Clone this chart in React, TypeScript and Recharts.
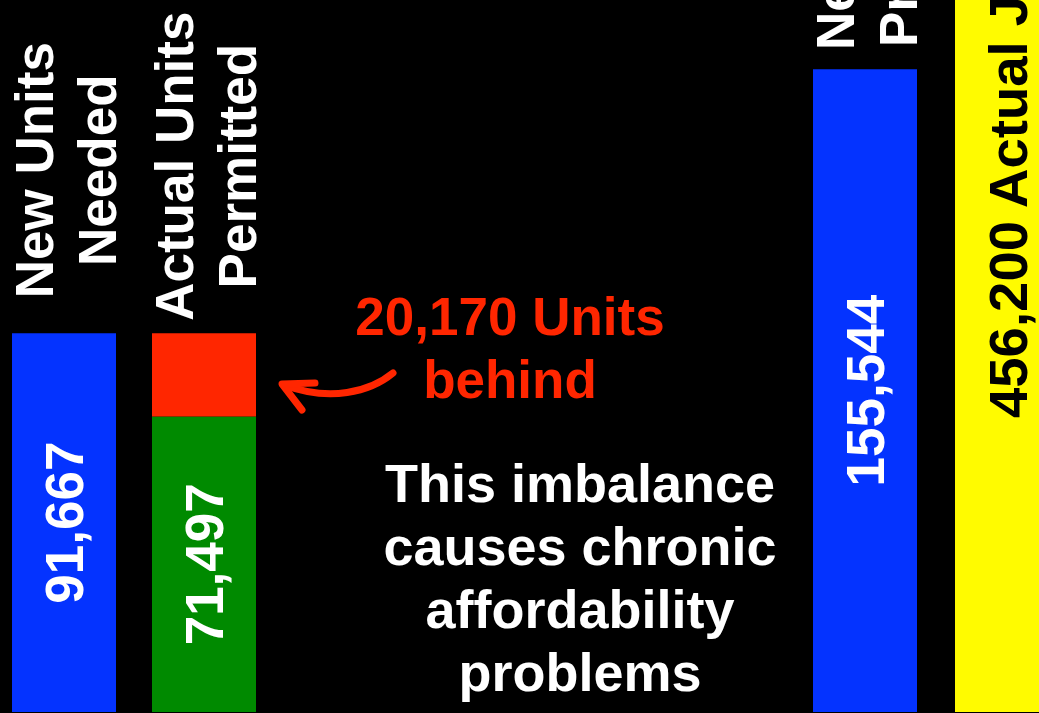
import React from 'react';
import { BarChart, Bar, XAxis, YAxis, LabelList } from 'recharts';

const FONT = '"Liberation Sans", Arial, Helvetica, sans-serif';

// left group: housing units
const unitCategories = ['New Units Needed', 'Actual Units Permitted'];
const unitTopLines = [['New Units', 'Needed'], ['Actual Units', 'Permitted']];
const unitsNeeded = [91667, null];
const unitsPermitted = [null, 71497];
const unitsBehind = [null, 20170];

// right group: jobs
const jobCategories = ['New Jobs Projected', 'Actual Jobs Created'];
const jobTopLines = [['New Jobs', 'Projected'], null];
const jobsProjected = [155544, null];
const jobsActual = [null, 456200];
const jobsActualText = 'Actual Jobs Created';

const Y_MAX = 250000;

const unitData = unitCategories.map((name, i) => ({
  name,
  needed: unitsNeeded[i],
  permitted: unitsPermitted[i],
  behind: unitsBehind[i],
}));

const jobData = jobCategories.map((name, i) => ({
  name,
  projected: jobsProjected[i],
  actual: jobsActual[i],
}));

const COLORS = {
  blue: '#0433FF',
  green: '#008A00',
  red: '#FF2600',
  yellow: '#FFFB00',
};

const fmt = (v: number) => v.toLocaleString('en-US');

const box = (p: any) => {
  const vb = p.viewBox || {};
  return {
    x: p.x ?? vb.x,
    y: p.y ?? vb.y,
    width: p.width ?? vb.width,
    height: p.height ?? vb.height,
  };
};

// series is used to find the category of the bar (LabelList index skips empty entries)
const makeTopLabel = (series: (number | null)[], lines: (string[] | null)[], gap: number) => (props: any) => {
  const { value } = props;
  if (value == null) return null;
  const idx = series.indexOf(value);
  if (idx < 0 || !lines[idx]) return null;
  const { x, y, width } = box(props);
  const cx = x + width / 2;
  const cy = y - gap;
  return (
    <g transform={`translate(${cx},${cy}) rotate(-90)`}>
      {lines[idx]!.map((t, i) => (
        <text
          key={i}
          x={0}
          y={-11 + 63 * i}
          textAnchor="middle"
          fill="#ffffff"
          fontSize={53}
          fontWeight="bold"
          fontFamily={FONT}
        >
          {t}
        </text>
      ))}
    </g>
  );
};

const makeValueLabel = (color: string) => (props: any) => {
  const { value } = props;
  if (value == null) return null;
  const { x, y, width, height } = box(props);
  const cx = x + width / 2;
  const cy = y + height / 2;
  return (
    <text
      transform={`translate(${cx},${cy}) rotate(-90)`}
      x={0}
      y={19}
      textAnchor="middle"
      fill={color}
      fontSize={53}
      fontWeight="bold"
      fontFamily={FONT}
    >
      {fmt(value)}
    </text>
  );
};

const BigBarLabel = (props: any) => {
  const { value } = props;
  if (value == null) return null;
  const { x, y, width, height } = box(props);
  const cx = x + width / 2;
  const cy = y + height - 294;
  return (
    <text
      transform={`translate(${cx},${cy}) rotate(-90)`}
      x={0}
      y={20}
      textAnchor="start"
      fill="#000000"
      fontSize={54.5}
      fontWeight="bold"
      fontFamily={FONT}
    >
      {`${fmt(value)} ${jobsActualText}`}
    </text>
  );
};

const CHART_H = 1033;
const CHART_TOP = 712 - CHART_H;

export default function App() {
  return (
    <div
      style={{
        position: 'absolute',
        left: 0,
        top: 0,
        width: 1039,
        height: 713,
        overflow: 'hidden',
        background: '#000000',
        fontFamily: FONT,
      }}
    >
      <div style={{ position: 'absolute', left: -6, top: CHART_TOP }}>
        <BarChart width={280} height={CHART_H} data={unitData} margin={{ top: 0, right: 0, bottom: 0, left: 0 }} barSize={104}>
          <XAxis dataKey="name" hide />
          <YAxis hide domain={[0, Y_MAX]} allowDataOverflow />
          <Bar dataKey="needed" stackId="s" fill={COLORS.blue} isAnimationActive={false}>
            <LabelList dataKey="needed" content={makeTopLabel(unitsNeeded, unitTopLines, 163)} />
            <LabelList dataKey="needed" content={makeValueLabel('#ffffff')} />
          </Bar>
          <Bar dataKey="permitted" stackId="s" fill={COLORS.green} isAnimationActive={false}>
            <LabelList dataKey="permitted" content={makeValueLabel('#ffffff')} />
          </Bar>
          <Bar dataKey="behind" stackId="s" fill={COLORS.red} isAnimationActive={false}>
            <LabelList dataKey="behind" content={makeTopLabel(unitsBehind, unitTopLines, 167)} />
          </Bar>
        </BarChart>
      </div>

      <div style={{ position: 'absolute', left: 794, top: CHART_TOP }}>
        <BarChart width={284} height={CHART_H} data={jobData} margin={{ top: 0, right: 0, bottom: 0, left: 0 }} barSize={104}>
          <XAxis dataKey="name" hide />
          <YAxis hide domain={[0, Y_MAX]} allowDataOverflow />
          <Bar dataKey="projected" stackId="s" fill={COLORS.blue} isAnimationActive={false}>
            <LabelList dataKey="projected" content={makeTopLabel(jobsProjected, jobTopLines, 143)} />
            <LabelList dataKey="projected" content={makeValueLabel('#ffffff')} />
          </Bar>
          <Bar dataKey="actual" stackId="s" fill={COLORS.yellow} isAnimationActive={false}>
            <LabelList dataKey="actual" content={BigBarLabel} />
          </Bar>
        </BarChart>
      </div>

      {/* annotations */}
      <svg width={1039} height={713} style={{ position: 'absolute', left: 0, top: 0 }}>
        <g fontFamily={FONT} fontWeight="bold" fontSize={53} textAnchor="middle">
          <text x={510} y={335} fill={COLORS.red}>20,170 Units</text>
          <text x={510} y={398} fill={COLORS.red}>behind</text>
          <g fill="#ffffff" fontSize={54}>
            <text x={580} y={502}>This imbalance</text>
            <text x={580} y={565}>causes chronic</text>
            <text x={580} y={628}>affordability</text>
            <text x={580} y={691}>problems</text>
          </g>
        </g>
        <g fill="none" stroke={COLORS.red} strokeWidth={7} strokeLinecap="round" strokeLinejoin="round">
          <path d="M 393 373 C 370 392 330 402 284 385" />
          <path d="M 315 383 L 282 384 L 302 410" />
        </g>
      </svg>
    </div>
  );
}
